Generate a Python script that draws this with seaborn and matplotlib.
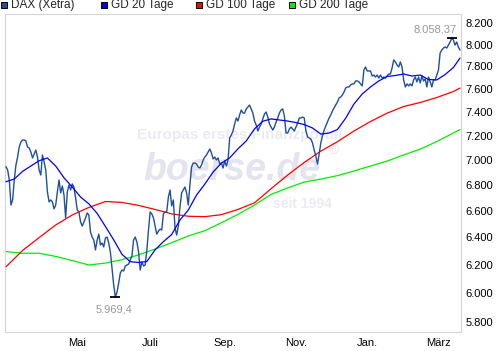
import numpy as np
import pandas as pd
import matplotlib
matplotlib.use("Agg")
import matplotlib.pyplot as plt
from matplotlib.ticker import FixedLocator, NullLocator, FuncFormatter
from matplotlib.patches import Rectangle
import seaborn as sns

# DAX (Xetra) Schlusskurse, ein Wert pro Handelstag ab 01.03.2012
dax = [
    6945, 6918, 6838, 6643, 6682, 6838, 6958, 7023, 7105, 7146,
    7163, 7163, 7155, 7105, 7097, 7064, 7015, 7048, 7080, 7023,
    6918, 6878, 7040, 6983, 6918, 6744, 6667, 6682, 6667, 6613,
    6643, 6744, 6838, 6737, 6791, 6721, 6544, 6744, 6799, 6760,
    6807, 6783, 6698, 6605, 6590, 6514, 6483, 6514, 6544, 6582,
    6567, 6438, 6401, 6379, 6306, 6379, 6423, 6342, 6357, 6328,
    6394, 6401, 6357, 6291, 6175, 6055, 5969.4, 6006, 6069, 6140,
    6161, 6154, 6190, 6197, 6204, 6233, 6262, 6379, 6401, 6364,
    6291, 6161, 6219, 6190, 6197, 6306, 6453, 6590, 6575, 6544,
    6483, 6423, 6445, 6460, 6453, 6575, 6590, 6590, 6705, 6760,
    6636, 6682, 6468, 6416, 6483, 6628, 6737, 6760, 6783, 6737,
    6643, 6799, 6942, 6974, 6974, 6966, 6942, 6934, 6958, 6999,
    7023, 7040, 7064, 7088, 7056, 7007, 7023, 6999, 7015, 6966,
    6974, 6934, 6991, 6950, 6999, 7180, 7205, 7238, 7297, 7348,
    7322, 7374, 7416, 7390, 7390, 7425, 7442, 7459, 7425, 7390,
    7322, 7288, 7238, 7271, 7297, 7339, 7382, 7399, 7356, 7297,
    7271, 7246, 7271, 7314, 7348, 7390, 7416, 7425, 7365, 7221,
    7221, 7254, 7271, 7254, 7238, 7271, 7305, 7348, 7348, 7356,
    7348, 7238, 7188, 7180, 7171, 7138, 7080, 7031, 6966, 7048,
    7138, 7196, 7246, 7280, 7314, 7348, 7374, 7408, 7433, 7459,
    7485, 7520, 7529, 7546, 7572, 7608, 7617, 7617, 7635, 7644,
    7644, 7670, 7670, 7662, 7644, 7626, 7768, 7795, 7759, 7759,
    7759, 7714, 7723, 7705, 7723, 7696, 7723, 7696, 7705, 7696,
    7714, 7732, 7732, 7786, 7859, 7841, 7813, 7795, 7841, 7795,
    7679, 7617, 7644, 7626, 7644, 7626, 7679, 7705, 7662, 7705,
    7653, 7714, 7670, 7688, 7617, 7705, 7662, 7617, 7679, 7679,
    7723, 7768, 7922, 7950, 7968, 7978, 7968, 7996, 8024, 8058.37,
    8043, 7996, 8024, 7978, 7950,
]

gd20_tag = list(range(0, 275, 5)) + [274]
gd20 = [
    6825, 6846, 6907, 6950, 6993, 7015, 6950, 6856, 6783, 6705,
    6652, 6579, 6480, 6380, 6274, 6221, 6215, 6222, 6307, 6367,
    6420, 6529, 6604, 6720, 6806, 6902, 6973, 7016, 7090, 7155,
    7256, 7320, 7340, 7331, 7322, 7309, 7292, 7263, 7212, 7221,
    7250, 7346, 7468, 7555, 7617, 7670, 7710, 7719, 7732, 7714,
    7723, 7683, 7679, 7727, 7790, 7876,
]
gd_tag = list(range(0, 275, 10)) + [274]
gd100 = [
    6184, 6302, 6397, 6491, 6567, 6624, 6670, 6663, 6640, 6609,
    6575, 6557, 6554, 6569, 6609, 6660, 6770, 6878, 6979, 7071,
    7148, 7238, 7318, 7389, 7446, 7481, 7524, 7577, 7607,
]
gd200 = [
    6294, 6282, 6282, 6259, 6229, 6197, 6211, 6235, 6270, 6313,
    6359, 6409, 6448, 6508, 6571, 6643, 6725, 6776, 6822, 6846,
    6873, 6910, 6950, 6990, 7040, 7087, 7150, 7221, 7250,
]

namen = ["DAX (Xetra)", "GD 20 Tage", "GD 100 Tage", "GD 200 Tage"]
farben = ["#1f4f9f", "#0000ff", "#ff0000", "#00ee00"]
y_ticks = list(range(5800, 8201, 200))
monat_namen = {5: "Mai", 7: "Juli", 9: "Sep.", 11: "Nov.", 1: "Jan.", 3: "März"}

sns.set_theme(style="white")
plt.rcParams["font.family"] = ["Liberation Sans", "DejaVu Sans"]

datum = pd.bdate_range("2012-03-01", periods=len(dax))
tag = np.arange(len(dax))

fig = plt.figure(figsize=(5, 3.51), dpi=100)
ax = fig.add_axes([0.010, 0.0541, 0.912, 0.9046])

# Wasserzeichen
wz = "#ebebf2"
ax.text(137 / 500, 1 - 135 / 351, "Europas erstes Finanzportal", transform=fig.transFigure,
        fontsize=11, fontweight="bold", color=wz, ha="left", va="center", zorder=0)
ax.text(143 / 500, 1 - 180 / 351, "boerse.de", transform=fig.transFigure,
        fontsize=27, fontweight="bold", style="italic", color="#e4e4ee",
        ha="left", va="baseline", zorder=0)
ax.text(334 / 500, 1 - 150 / 351, "®", transform=fig.transFigure,
        fontsize=10, color="#e4e4ee", ha="center", va="center", zorder=0)
ax.text(273 / 500, 1 - 204 / 351, "seit 1994", transform=fig.transFigure,
        fontsize=10, fontweight="bold", color=wz, ha="left", va="center", zorder=0)

sns.lineplot(x=gd_tag, y=gd200, ax=ax, color=farben[3], linewidth=0.9, zorder=2)
sns.lineplot(x=gd_tag, y=gd100, ax=ax, color=farben[2], linewidth=0.9, zorder=3)
sns.lineplot(x=tag, y=dax, ax=ax, color=farben[0], linewidth=1.0, zorder=4)
sns.lineplot(x=gd20_tag, y=gd20, ax=ax, color=farben[1], linewidth=0.9, zorder=5)

ax.set_yscale("log")
ax.set_ylim(5734, 8284)
ax.set_xlim(-0.6, 274.6)
ax.set_xlabel("")
ax.set_ylabel("")

ax.yaxis.tick_right()
ax.yaxis.set_major_locator(FixedLocator(y_ticks))
ax.yaxis.set_minor_locator(NullLocator())
ax.yaxis.set_major_formatter(FuncFormatter(lambda v, p: f"{v:,.0f}".replace(",", ".")))
ax.tick_params(axis="y", which="both", length=0, pad=3, labelsize=8, colors="black")

# Monatsanfaenge: beschriftete Monate und Striche dazwischen
anfang = [i for i in range(1, len(datum)) if datum[i].month != datum[i - 1].month]
haupt = [i for i in anfang if datum[i].month in monat_namen]
neben = [i for i in anfang if datum[i].month not in monat_namen]
ax.xaxis.set_major_locator(FixedLocator(haupt))
ax.xaxis.set_major_formatter(FuncFormatter(lambda v, p: monat_namen[datum[int(round(v))].month]))
ax.xaxis.set_minor_locator(FixedLocator(neben))
ax.tick_params(axis="x", which="major", length=0, pad=4, labelsize=8, colors="black")
ax.tick_params(axis="x", which="minor", length=2, width=0.8, color="#c0c0c0", direction="out")

for s in ax.spines.values():
    s.set_color("#d4d4d4")
    s.set_linewidth(0.8)

# Hoch und Tief
werte = np.array(dax)
i_max, i_min = int(werte.argmax()), int(werte.argmin())
def de(v, stellen):
    t = f"{v:,.{stellen}f}".replace(",", "X").replace(".", ",").replace("X", ".")
    return t.rstrip("0")
ax.plot(i_max, werte[i_max], marker="_", ms=6.5, mew=1.3, color="black", zorder=6)
ax.plot(i_min, werte[i_min], marker="_", ms=6.5, mew=1.3, color="black", zorder=6)
ax.annotate(de(werte[i_max], 2), (i_max, werte[i_max]), xytext=(3.6, 3),
            textcoords="offset points", ha="right", va="bottom", fontsize=8, color="#999999")
ax.annotate(de(werte[i_min], 2), (i_min, werte[i_min]), xytext=(-1, -5),
            textcoords="offset points", ha="center", va="top", fontsize=8, color="#999999")

# Legende oben
for x0, name, farbe in zip([1, 101, 196, 289], namen, farben):
    fig.patches.append(Rectangle((x0 / 500, 1 - 8 / 351), 6 / 500, 6 / 351,
                                 transform=fig.transFigure, facecolor=farbe,
                                 edgecolor="black", linewidth=0.7))
    fig.text((x0 + 10) / 500, 1 - 4.8 / 351, name, fontsize=8.5, ha="left", va="center")

fig.savefig("out.png", dpi=100, facecolor="white")
